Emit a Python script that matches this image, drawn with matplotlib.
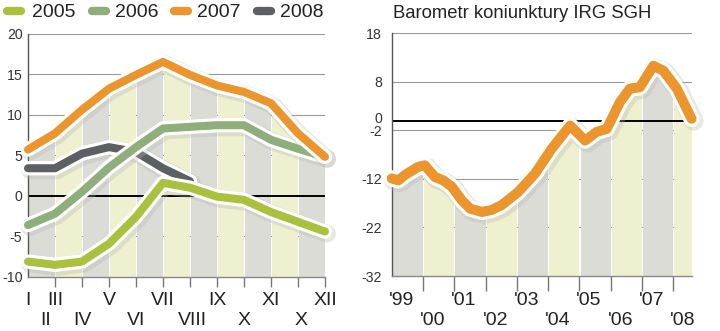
import matplotlib
matplotlib.use('Agg')
import matplotlib.pyplot as plt
import matplotlib.patheffects as pe
import matplotlib.transforms as mtransforms
from matplotlib.patches import Rectangle
from matplotlib.lines import Line2D

plt.rcParams['font.family'] = ['Liberation Sans', 'DejaVu Sans']
plt.rcParams['axes.unicode_minus'] = False

# left chart: monthly values per year
months = list(range(12))
v2005 = [-8.1, -8.5, -8.1, -5.9, -2.6, 1.6, 1.0, -0.1, -0.5, -2.0, -3.2, -4.4]
v2006 = [-3.6, -2.2, 0.5, 3.5, 6.0, 8.3, 8.5, 8.7, 8.7, 6.9, 5.8, 4.8]
v2007 = [5.7, 7.7, 10.6, 13.2, 14.9, 16.5, 14.9, 13.6, 12.8, 11.4, 7.7, 4.8]
v2008 = [3.4, 3.4, 5.2, 6.0, 5.4, 3.4, 1.8]
left_yticks = [20, 15, 10, 5, 0, -5, -10]
top_lbl = ['I', 'III', 'V', 'VII', 'IX', 'XI', 'XII']
top_pos = [0, 1, 3, 5, 7, 9, 11]
bot_lbl = ['II', 'IV', 'VI', 'VIII', 'X', 'X']
bot_pos = [0.65, 2, 4, 6.1, 8, 10.1]

# right chart: Barometr koniunktury IRG SGH
baro_t = [1999.00, 1999.21, 1999.42, 1999.85, 2000.06, 2000.38, 2000.65, 2000.92,
          2001.24, 2001.50, 2001.88, 2002.19, 2002.51, 2003.04, 2003.58, 2004.11,
          2004.70, 2005.18, 2005.55, 2005.87, 2006.29, 2006.61, 2006.93, 2007.36,
          2007.68, 2008.11, 2008.42, 2008.58]
baro_v = [-11.9, -12.3, -11.2, -9.5, -9.2, -11.6, -12.3, -13.6,
          -16.4, -18.1, -18.8, -18.4, -17.4, -14.7, -10.9, -5.8,
          -1.0, -4.1, -2.3, -1.7, 3.8, 6.6, 6.9, 11.3,
          10.3, 6.6, 2.5, 0.4]
right_yticks = [18, 8, 0, -2, -12, -22, -32]
years = list(range(1999, 2009))
year_lbl = ["'99", "'00", "'01", "'02", "'03", "'04", "'05", "'06", "'07", "'08"]

c2005 = '#a9c13d'
c2006 = '#8eae7b'
c2007 = '#eb952c'
c2008 = '#5d6062'
gray_strip = '#dcdcd7'
yel_strip = '#eff0d0'

W, H = 720, 331
fig = plt.figure(figsize=(7.2, 3.31), dpi=100)


def halo(lw):
    return [pe.Stroke(linewidth=lw + 7, foreground='0.7', alpha=0.3, offset=(1.5, -1.5)),
            pe.Stroke(linewidth=lw + 4.5, foreground='white'),
            pe.Normal()]


def strips(ax, x, y, edges, bottom, gap):
    for i in range(len(edges) - 1):
        col = gray_strip if i % 2 == 0 else yel_strip
        poly = ax.fill_between(x, bottom, y, color=col, lw=0, zorder=1)
        r = Rectangle((edges[i] + gap, bottom - 5), edges[i + 1] - edges[i] - 2 * gap, 200,
                      transform=ax.transData)
        poly.set_clip_path(r)


def style_axes(ax):
    for s in ['top', 'right']:
        ax.spines[s].set_visible(False)
    ax.spines['left'].set_color('#555555')
    ax.spines['left'].set_linewidth(1)
    ax.spines['bottom'].set_color('#888888')
    ax.spines['bottom'].set_linewidth(1)
    ax.tick_params(axis='y', length=0, labelsize=10.2, labelcolor='#333333', pad=4)
    ax.tick_params(axis='x', direction='out', color='#777777', width=1, labelbottom=False)
    ax.set_facecolor('none')


# ---- left chart
ax1 = fig.add_axes([28 / W, 1 - 277 / H, (325 - 28) / W, (277 - 33.5) / H])
ax1.set_xlim(0, 11)
ax1.set_ylim(-10, 20)
strips(ax1, months, v2007, months, -10, 0.04)
for g in [20, 15, 10, 5, -5]:
    ax1.axhline(g, color='#999999', lw=0.8, zorder=0.5)
ax1.axhline(0, color='black', lw=1.4, zorder=1.5)
lw = 5.8
ax1.plot(months[:len(v2008)], v2008, color=c2008, lw=lw, solid_joinstyle='round',
         solid_capstyle='round', path_effects=halo(lw), zorder=3, clip_on=False)
ax1.plot(months, v2006, color=c2006, lw=lw, solid_joinstyle='round',
         solid_capstyle='round', path_effects=halo(lw), zorder=4, clip_on=False)
ax1.plot(months, v2005, color=c2005, lw=lw, solid_joinstyle='round',
         solid_capstyle='round', path_effects=halo(lw), zorder=5, clip_on=False)
ax1.plot(months, v2007, color=c2007, lw=lw, solid_joinstyle='round',
         solid_capstyle='round', path_effects=halo(lw), zorder=6, clip_on=False)
style_axes(ax1)
ax1.set_yticks(left_yticks)
ax1.set_xticks(months[1:])
ax1.tick_params(axis='x', length=7)
tr1 = mtransforms.blended_transform_factory(ax1.transData, fig.transFigure)
for p, t in zip(top_pos, top_lbl):
    ax1.text(p, 1 - 305 / H, t, transform=tr1, ha='center', va='baseline',
             fontsize=14, color='#222222')
for p, t in zip(bot_pos, bot_lbl):
    ax1.text(p, 1 - 325 / H, t, transform=tr1, ha='center', va='baseline',
             fontsize=14, color='#222222')

# legend
leg = [('2005', c2005, 3, 32), ('2006', c2006, 88, 115),
       ('2007', c2007, 170, 197), ('2008', c2008, 253, 280)]
for name, col, px, tx in leg:
    fig.add_artist(Line2D([(px + 4) / W, (px + 18) / W], [1 - 11 / H, 1 - 11 / H],
                          color=col, lw=6, solid_capstyle='round',
                          transform=fig.transFigure))
    fig.text(tx / W, 1 - 16.7 / H, name, fontsize=14, color='#222222', va='baseline')

# ---- right chart
ax2 = fig.add_axes([391.7 / W, 1 - 276 / H, 300 / W, (276 - 33.3) / H])
ax2.set_xlim(1999, 1999 + 300 / 31.3)
ax2.set_ylim(-32, 18)
edges = years + [2009]
strips(ax2, baro_t, baro_v, edges, -32, 0.035)
for g in [18, 8, -2, -12, -22]:
    ax2.axhline(g, color='#999999', lw=0.8, zorder=0.5)
ax2.axhline(0, color='black', lw=1.4, zorder=1.5)
lw2 = 7.2
ax2.plot(baro_t, baro_v, color=c2007, lw=lw2, solid_joinstyle='round',
         solid_capstyle='round', path_effects=halo(lw2), zorder=5, clip_on=False)
style_axes(ax2)
ax2.set_yticks(right_yticks)
ax2.tick_params(axis='y', pad=7)
# nudge the "0" label up a little so it clears "-2", as in the original
for lbl in ax2.get_yticklabels():
    if lbl.get_text() == '0':
        lbl.set_transform(lbl.get_transform() +
                          mtransforms.ScaledTranslation(0, 3 / 100, fig.dpi_scale_trans))
ax2.set_xticks(years[1:])
ax2.tick_params(axis='x', length=11)
tr2 = mtransforms.blended_transform_factory(ax2.transData, fig.transFigure)
for i, (yr, t) in enumerate(zip(years, year_lbl)):
    yb = 305 if i % 2 == 0 else 325
    ax2.text(yr - 0.1, 1 - yb / H, t, transform=tr2, ha='left', va='baseline',
             fontsize=14, color='#222222')

fig.text(393 / W, 1 - 18.3 / H, 'Barometr koniunktury IRG SGH', fontsize=13.3,
         color='#222222', va='baseline')

fig.savefig('out.png', dpi=100)
